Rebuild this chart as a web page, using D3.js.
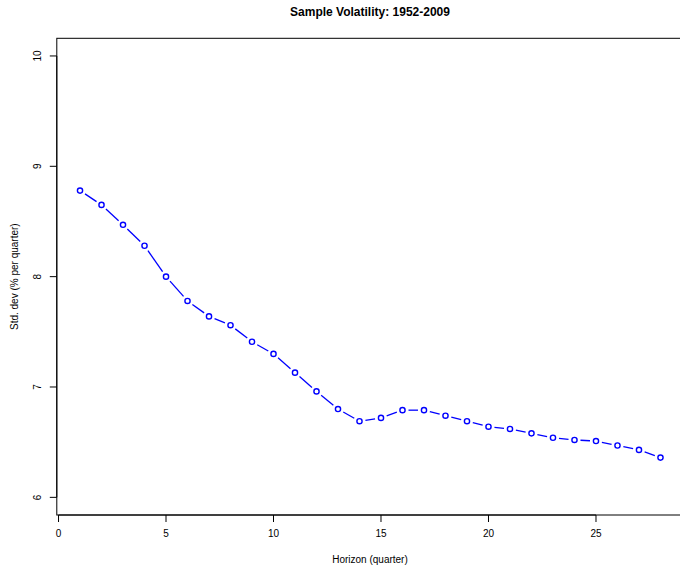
<!DOCTYPE html>
<html>
<head>
<meta charset="utf-8">
<script src="https://cdn.jsdelivr.net/npm/d3@7"></script>
<style>
  body { margin: 0; background: #fff; }
  svg { font-family: "Liberation Sans", Arial, Helvetica, sans-serif; }
</style>
</head>
<body>
<svg width="680" height="566"></svg>
<script>
// data
var horizon = d3.range(1, 29);
var stdDev = [8.78, 8.65, 8.47, 8.28, 8.00, 7.78, 7.64, 7.56, 7.41, 7.30,
              7.13, 6.96, 6.80, 6.69, 6.72, 6.79, 6.79, 6.74, 6.69, 6.64,
              6.62, 6.58, 6.54, 6.52, 6.51, 6.47, 6.43, 6.36];
var xTicks = [0, 5, 10, 15, 20, 25];
var yTicks = [6, 7, 8, 9, 10];

var svg = d3.select("svg");

// R style usr limits (4% padding)
var x = d3.scaleLinear().domain([-0.08, 29.08]).range([56.8, 683.7]);
var y = d3.scaleLinear().domain([5.84, 10.16]).range([515, 38.3]);

// box
svg.append("rect")
  .attr("x", x(-0.08)).attr("y", y(10.16))
  .attr("width", x(29.08) - x(-0.08)).attr("height", y(5.84) - y(10.16))
  .style("fill", "none").style("stroke", "#000").style("stroke-width", 1);

// x axis
var gx = svg.append("g").attr("transform", "translate(0," + y(5.84) + ")");
gx.append("line")
  .attr("x1", x(0)).attr("x2", x(25))
  .style("stroke", "#000");
gx.selectAll(".tk").data(xTicks).enter().append("line")
  .attr("x1", d => x(d)).attr("x2", d => x(d))
  .attr("y1", 0).attr("y2", 7).style("stroke", "#000");
gx.selectAll("text").data(xTicks).enter().append("text")
  .attr("x", d => x(d)).attr("y", 22)
  .attr("text-anchor", "middle").style("font-size", "10px")
  .text(d => d);

// y axis
var gy = svg.append("g").attr("transform", "translate(" + x(-0.08) + ",0)");
gy.append("line")
  .attr("y1", y(6)).attr("y2", y(10)).style("stroke", "#000");
gy.selectAll(".tk").data(yTicks).enter().append("line")
  .attr("y1", d => y(d)).attr("y2", d => y(d))
  .attr("x1", 0).attr("x2", -7).style("stroke", "#000");
gy.selectAll("text").data(yTicks).enter().append("text")
  .attr("transform", d => "translate(-16," + y(d) + ") rotate(-90)")
  .attr("text-anchor", "middle").style("font-size", "10px")
  .text(d => d);

// titles
svg.append("text").attr("x", 370).attr("y", 16)
  .attr("text-anchor", "middle").style("font-size", "12px").style("font-weight", "bold")
  .text("Sample Volatility: 1952-2009");
svg.append("text").attr("x", 370).attr("y", 563)
  .attr("text-anchor", "middle").style("font-size", "10px")
  .text("Horizon (quarter)");
svg.append("text")
  .attr("transform", "translate(18," + y(8) + ") rotate(-90)")
  .attr("text-anchor", "middle").style("font-size", "10px")
  .text("Std. dev (% per quarter)");

// type = "b": segments with gaps around the points
var pts = horizon.map((h, i) => [x(h), y(stdDev[i])]);
var gap = 6;
var segs = [];
for (var i = 0; i < pts.length - 1; i++) {
  var a = pts[i], b = pts[i + 1];
  var dx = b[0] - a[0], dy = b[1] - a[1], len = Math.sqrt(dx * dx + dy * dy);
  if (len > 2 * gap) {
    segs.push([a[0] + dx / len * gap, a[1] + dy / len * gap,
               b[0] - dx / len * gap, b[1] - dy / len * gap]);
  }
}
svg.append("g").selectAll("line").data(segs).enter().append("line")
  .attr("x1", d => d[0]).attr("y1", d => d[1])
  .attr("x2", d => d[2]).attr("y2", d => d[3])
  .style("stroke", "#0000ff").style("stroke-width", 1.3);

svg.append("g").selectAll("circle").data(pts).enter().append("circle")
  .attr("cx", d => d[0]).attr("cy", d => d[1]).attr("r", 2.6)
  .style("fill", "none").style("stroke", "#0000ff").style("stroke-width", 1.4);
</script>
</body>
</html>
